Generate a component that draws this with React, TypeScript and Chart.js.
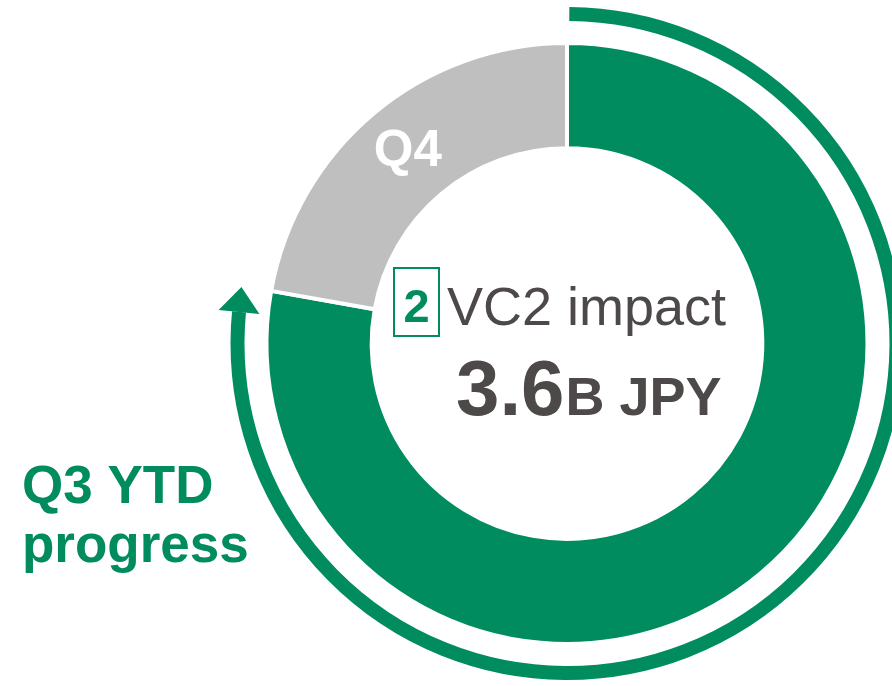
import React, { useEffect, useRef } from 'react';
import { Chart, registerables } from 'chart.js';

Chart.register(...registerables);

const categories = ['Q3 YTD', 'Q4'];
const values = [77.8, 22.2];
const sliceColors = ['#008C5F', '#BFBFBF'];
const badgeText = '2';
const centerTitle = 'VC2 impact';
const centerValue = '3.6';
const centerUnit = 'B JPY';
const sideLabel = ['Q3 YTD', 'progress'];
const segmentLabel = 'Q4';

const GREEN = '#008C5F';
const DARK = '#4D4949';
const FONT = "'Liberation Sans', Arial, Helvetica, sans-serif";

const overlayPlugin = {
  id: 'overlay',
  afterDatasetsDraw(chart: any) {
    const ctx: CanvasRenderingContext2D = chart.ctx;
    const meta = chart.getDatasetMeta(0);
    const a0 = meta.data[0] as any;
    const cx = a0.x;
    const cy = a0.y;
    const R = a0.outerRadius;
    const rad = (d: number) => (d * Math.PI) / 180;

    ctx.save();
    // outer progress arc with arrow
    const r = R + 29;
    const endA = rad(185.5);
    ctx.strokeStyle = GREEN;
    ctx.fillStyle = GREEN;
    ctx.lineWidth = 14;
    ctx.lineCap = 'butt';
    ctx.beginPath();
    ctx.arc(cx, cy, r, rad(-89.6), endA, false);
    ctx.stroke();
    const bx = cx + r * Math.cos(endA);
    const by = cy + r * Math.sin(endA);
    const tx = -Math.sin(endA);
    const ty = Math.cos(endA);
    const nx = Math.cos(endA);
    const ny = Math.sin(endA);
    ctx.beginPath();
    ctx.moveTo(bx + nx * 20.5, by + ny * 20.5);
    ctx.lineTo(bx - nx * 20.5, by - ny * 20.5);
    ctx.lineTo(bx + tx * 25, by + ty * 25);
    ctx.closePath();
    ctx.fill();

    // Q4 label on the grey slice
    const a1 = meta.data[1] as any;
    const cp = a1.getCenterPoint();
    ctx.fillStyle = '#FFFFFF';
    ctx.font = `bold 51px ${FONT}`;
    ctx.textAlign = 'center';
    ctx.textBaseline = 'alphabetic';
    ctx.fillText(segmentLabel, cp.x, cp.y + 13);

    // badge box
    ctx.strokeStyle = GREEN;
    ctx.lineWidth = 2;
    ctx.strokeRect(cx - 173, cy - 75.5, 45, 68);
    ctx.fillStyle = GREEN;
    ctx.font = `bold 47px ${FONT}`;
    ctx.textAlign = 'center';
    ctx.fillText(badgeText, cx - 150.5, cy - 22);

    // title
    ctx.fillStyle = DARK;
    ctx.textAlign = 'left';
    ctx.font = `54px ${FONT}`;
    ctx.fillText(centerTitle, cx - 120, cy - 18.5);

    // value
    ctx.font = `bold 78px ${FONT}`;
    const vx = cx - 111;
    ctx.fillText(centerValue, vx, cy + 71.5);
    const w = ctx.measureText(centerValue).width;
    ctx.font = `bold 54px ${FONT}`;
    ctx.fillText(centerUnit, vx + w + 1, cy + 71.5);

    // side label
    ctx.fillStyle = GREEN;
    ctx.font = `bold 53px ${FONT}`;
    ctx.fillText(sideLabel[0], 22, 503);
    ctx.fillText(sideLabel[1], 22, 562);
    ctx.restore();
  },
};

export default function App() {
  const ref = useRef<HTMLCanvasElement>(null);
  useEffect(() => {
    if (!ref.current) return;
    const chart = new Chart(ref.current, {
      type: 'doughnut',
      data: {
        labels: categories,
        datasets: [
          {
            data: values,
            backgroundColor: sliceColors,
            borderColor: '#FFFFFF',
            borderWidth: 4,
            hoverOffset: 0,
            offset: 0,
          },
        ],
      },
      options: {
        responsive: false,
        animation: false,
        radius: 300.5,
        cutout: '65%',
        layout: { padding: { left: 267, right: 25, top: 43.5, bottom: 42.5 } },
        plugins: { legend: { display: false }, tooltip: { enabled: false } },
        events: [],
      },
      plugins: [overlayPlugin],
    } as any);
    return () => chart.destroy();
  }, []);
  return (
    <div style={{ position: 'absolute', left: 0, top: 0, width: 892, height: 686, overflow: 'hidden', background: '#fff' }}>
      <canvas ref={ref} width={892} height={686} style={{ width: 892, height: 686, display: 'block' }} />
    </div>
  );
}
